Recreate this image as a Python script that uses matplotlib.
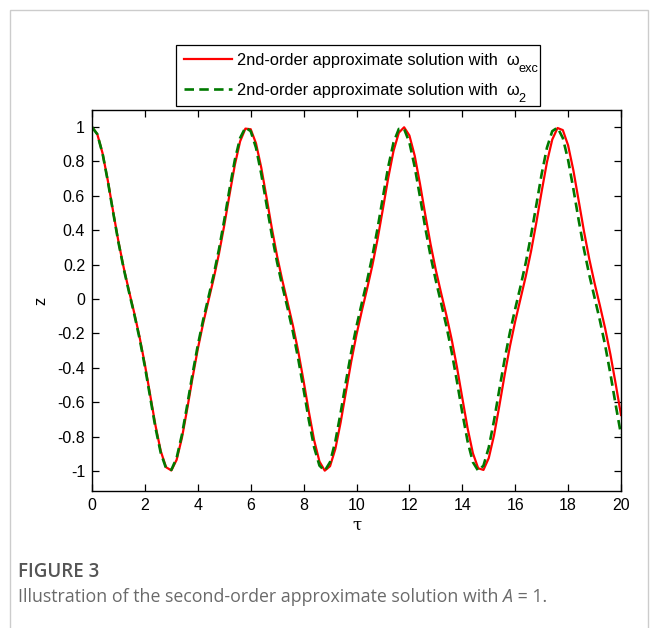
import matplotlib
matplotlib.use("Agg")
import matplotlib.pyplot as plt
from matplotlib.patches import Rectangle

plt.rcParams['font.family'] = ['Liberation Sans', 'DejaVu Sans']
plt.rcParams['axes.unicode_minus'] = False

# sample times
tau = [0.0, 0.2, 0.4, 0.6, 0.8, 1.0, 1.2, 1.4, 1.6, 1.8,
       2.0, 2.2, 2.4, 2.6, 2.8, 3.0, 3.2, 3.4, 3.6, 3.8,
       4.0, 4.2, 4.4, 4.6, 4.8, 5.0, 5.2, 5.4, 5.6, 5.8,
       6.0, 6.2, 6.4, 6.6, 6.8, 7.0, 7.2, 7.4, 7.6, 7.8,
       8.0, 8.2, 8.4, 8.6, 8.8, 9.0, 9.2, 9.4, 9.6, 9.8,
       10.0, 10.2, 10.4, 10.6, 10.8, 11.0, 11.2, 11.4, 11.6, 11.8,
       12.0, 12.2, 12.4, 12.6, 12.8, 13.0, 13.2, 13.4, 13.6, 13.8,
       14.0, 14.2, 14.4, 14.6, 14.8, 15.0, 15.2, 15.4, 15.6, 15.8,
       16.0, 16.2, 16.4, 16.6, 16.8, 17.0, 17.2, 17.4, 17.6, 17.8,
       18.0, 18.2, 18.4, 18.6, 18.8, 19.0, 19.2, 19.4, 19.6, 19.8,
       20.0]

# 2nd-order solution with omega_exc (red)
z_exc = [1.0000, 0.9590, 0.8476, 0.6875, 0.5082, 0.3349, 0.1816, 0.0466, -0.0824, -0.2216,
         -0.3809, -0.5578, -0.7347, -0.8844, -0.9778, -0.9967, -0.9348, -0.8071, -0.6389, -0.4591,
         -0.2905, -0.1430, -0.0112, 0.1190, 0.2633, 0.4283, 0.6074, 0.7798, 0.9170, 0.9909,
         0.9873, 0.9054, 0.7636, 0.5895, 0.4110, 0.2478, 0.1056, -0.0241, -0.1567, -0.3067,
         -0.4769, -0.6567, -0.8222, -0.9449, -0.9979, -0.9719, -0.8715, -0.7176, -0.5397, -0.3641,
         -0.2068, -0.0693, 0.0596, 0.1958, 0.3516, 0.5262, 0.7049, 0.8613, 0.9672, 0.9988,
         0.9509, 0.8334, 0.6699, 0.4902, 0.3187, 0.1674, 0.0337, -0.0957, -0.2365, -0.3981,
         -0.5759, -0.7515, -0.8964, -0.9838, -0.9936, -0.9246, -0.7919, -0.6209, -0.4414, -0.2749,
         -0.1293, 0.0016, 0.1327, 0.2788, 0.4458, 0.6254, 0.7959, 0.9272, 0.9945, 0.9823,
         0.8934, 0.7474, 0.5713, 0.3937, 0.2328, 0.0924, -0.0369, -0.1709, -0.3228, -0.4947,
         -0.6743]

# 2nd-order solution with omega_2 (green dashed)
z_w2 = [1.0000, 0.9585, 0.8457, 0.6839, 0.5033, 0.3293, 0.1757, 0.0404, -0.0897, -0.2308,
        -0.3926, -0.5714, -0.7486, -0.8951, -0.9835, -0.9935, -0.9237, -0.7893, -0.6168, -0.4361,
        -0.2692, -0.1233, 0.0081, 0.1405, 0.2888, 0.4584, 0.6394, 0.8086, 0.9364, 0.9970,
        0.9761, 0.8800, 0.7272, 0.5486, 0.3713, 0.2121, 0.0731, -0.0567, -0.1937, -0.3502,
        -0.5259, -0.7058, -0.8629, -0.9687, -0.9985, -0.9483, -0.8275, -0.6617, -0.4807, -0.3091,
        -0.1579, -0.0242, 0.1064, 0.2498, 0.4143, 0.5941, 0.7689, 0.9102, 0.9890, 0.9890,
        0.9102, 0.7689, 0.5941, 0.4143, 0.2498, 0.1064, -0.0242, -0.1579, -0.3091, -0.4807,
        -0.6617, -0.8275, -0.9483, -0.9985, -0.9687, -0.8629, -0.7058, -0.5259, -0.3502, -0.1937,
        -0.0567, 0.0731, 0.2121, 0.3713, 0.5486, 0.7272, 0.8800, 0.9761, 0.9970, 0.9364,
        0.8086, 0.6394, 0.4584, 0.2888, 0.1405, 0.0081, -0.1233, -0.2692, -0.4361, -0.6168,
        -0.7893]

xticks = [0, 2, 4, 6, 8, 10, 12, 14, 16, 18, 20]
yticks = [-1, -0.8, -0.6, -0.4, -0.2, 0, 0.2, 0.4, 0.6, 0.8, 1]
ytick_labels = ['-1', '-0.8', '-0.6', '-0.4', '-0.2', '0', '0.2', '0.4', '0.6', '0.8', '1']

label_base = '2nd-order approximate solution with  ω'
label_subs = ['exc', '2']

FS = 11.5
LEG_FS = 11.8

fig = plt.figure(figsize=(6.58, 6.28), dpi=100)
ax = fig.add_axes([0.1398, 0.2182, 0.8040, 0.6066])

ax.plot(tau, z_exc, color='#ff0000', lw=1.6, label=label_base)
ax.plot(tau, z_w2, color='#007a00', lw=1.9, linestyle=(0, (3.6, 2.0)),
        label=label_base)

ax.set_xlim(0, 20)
ax.set_ylim(-1.116, 1.099)
ax.set_xticks(xticks)
ax.set_xticklabels([str(t) for t in xticks])
ax.set_yticks(yticks)
ax.set_yticklabels(ytick_labels)
ax.tick_params(direction='in', length=5, width=0.9, top=True, right=True,
               labelsize=FS, pad=5)
for sp in ax.spines.values():
    sp.set_linewidth(1.0)

ax.set_xlabel('τ', fontsize=12, family=['DejaVu Serif'])
ax.xaxis.set_label_coords(0.5, -0.066)
ax.set_ylabel('z', fontsize=12)
ax.yaxis.set_label_coords(-0.082, 0.5)

# legend box stretched to the reference width, above the axes
leg = ax.legend(loc='lower left', mode='expand',
                bbox_to_anchor=(176 / 658, (628 - 106) / 628, 364 / 658, 0.0),
                bbox_transform=fig.transFigure, fancybox=False, framealpha=1,
                edgecolor='black', fontsize=LEG_FS, handlelength=2.93,
                handletextpad=0.3, borderpad=0.48, labelspacing=0.92,
                borderaxespad=0)
leg.get_frame().set_linewidth(0.9)

# panel frame
fig.patches.append(Rectangle((10 / 658, -0.05), 638 / 658, 1.05 - 10 / 628,
                             transform=fig.transFigure, fill=False,
                             edgecolor='#cccccc', lw=1.0))

fig.canvas.draw()
r = fig.canvas.get_renderer()

# subscripts after omega, MATLAB style (larger than mathtext ones)
for t, sub in zip(leg.get_texts(), label_subs):
    bb = t.get_window_extent(r)
    x0, yb = t.get_transform().transform(t.get_position())
    fig.text((bb.x1 - 1) / fig.bbox.width, (yb - 7) / fig.bbox.height,
             sub, fontsize=9.2, va='baseline', ha='left')

fig.text(18 / 658, 0.0892, 'FIGURE 3', fontsize=13.5, color='#555555',
         family=['Open Sans', 'DejaVu Sans'], weight='semibold', va='center')

cap_y = 0.0494
cap_kw = dict(fontsize=12.8, color='#6a6a6a', va='center')
t1 = fig.text(18 / 658, cap_y, 'Illustration of the second-order approximate solution with ',
              family=['Open Sans', 'DejaVu Sans'], **cap_kw)
x = t1.get_window_extent(r).x1 / fig.bbox.width
t2 = fig.text(x, cap_y, 'A', family=['Open Sans', 'DejaVu Sans'], style='italic', **cap_kw)
x = t2.get_window_extent(r).x1 / fig.bbox.width
fig.text(x, cap_y, ' = 1.', family=['Open Sans', 'DejaVu Sans'], **cap_kw)

fig.savefig('out.png', dpi=100)
